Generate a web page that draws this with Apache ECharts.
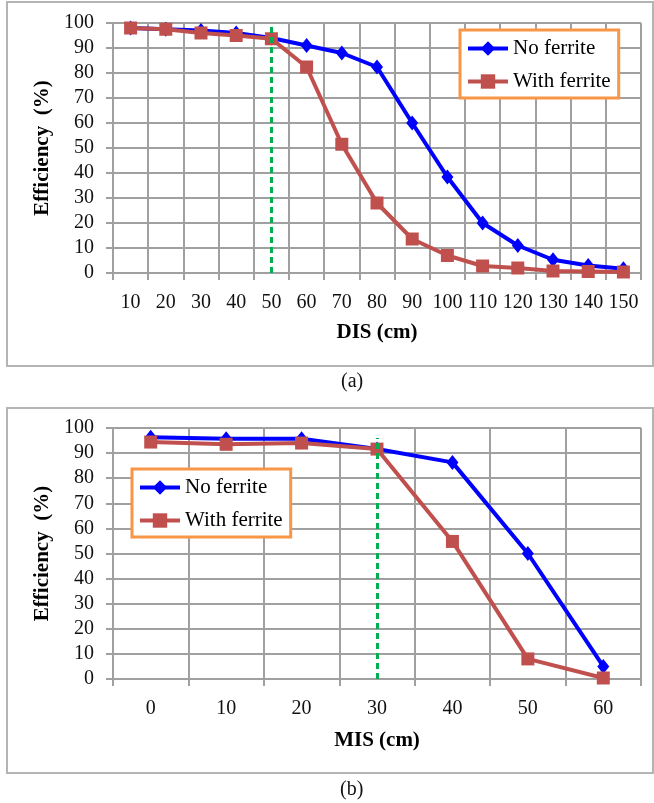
<!DOCTYPE html>
<html>
<head>
<meta charset="utf-8">
<script src="https://cdn.jsdelivr.net/npm/echarts@6/dist/echarts.min.js"></script>
<style>
  html, body { margin: 0; padding: 0; background: #fff; }
  #chart { width: 654px; height: 803px; }
</style>
</head>
<body>
<div id="chart"></div>
<script>
// (a) efficiency vs distance
const disCats = ['10', '20', '30', '40', '50', '60', '70', '80', '90', '100', '110', '120', '130', '140', '150'];
const disNoFerrite = [98, 97.5, 97, 96, 94, 91, 88, 82.4, 60, 38.4, 20, 11, 5.3, 3, 1.7];
const disWithFerrite = [98, 97.5, 96, 95, 93.7, 82.4, 51.5, 28, 13.6, 7, 2.8, 2, 0.8, 0.6, 0.4];
const disMarkAt = '50';

// (b) efficiency vs misalignment
const misCats = ['0', '10', '20', '30', '40', '50', '60'];
const misNoFerrite = [96.3, 95.7, 95.7, 91.6, 86.3, 50, 5];
const misWithFerrite = [94.4, 93.5, 94, 91.6, 54.8, 8, 0.4];
const misMarkAt = '30';
const misMarkTop = 96;

const seriesNames = ['No ferrite', 'With ferrite'];

const FONT = 'Liberation Serif';
const GRID_GRAY = '#a0a0a0';
const BLUE = '#0000ff';
const RED = '#c0504d';
const GREEN = '#00b050';
const ORANGE = '#f79646';

const chart = echarts.init(document.getElementById('chart'));

function xAxisFor(gridIndex, cats, name, nameGap) {
  return {
    type: 'category',
    gridIndex: gridIndex,
    data: cats,
    name: name,
    nameLocation: 'middle',
    nameGap: nameGap,
    nameTextStyle: { fontFamily: FONT, fontSize: 21, fontWeight: 'bold', color: '#000' },
    axisLine: { lineStyle: { color: GRID_GRAY, width: 2 } },
    axisTick: { show: true, length: 7, interval: 0, lineStyle: { color: GRID_GRAY, width: 2 } },
    axisLabel: { interval: 0, margin: 20, fontFamily: FONT, fontSize: 20, color: '#111' },
    splitLine: { show: true, interval: 0, lineStyle: { color: GRID_GRAY, width: 2 } }
  };
}

function yAxisFor(gridIndex) {
  return {
    type: 'value',
    gridIndex: gridIndex,
    min: 0,
    max: 100,
    interval: 10,
    name: 'Efficiency  (%)',
    nameLocation: 'middle',
    nameGap: 52,
    nameTextStyle: { fontFamily: FONT, fontSize: 21, fontWeight: 'bold', color: '#000' },
    axisLine: { show: true, lineStyle: { color: GRID_GRAY, width: 2 } },
    axisTick: { show: true, length: 7, lineStyle: { color: GRID_GRAY, width: 2 } },
    axisLabel: { margin: 19, fontFamily: FONT, fontSize: 20, color: '#111' },
    splitLine: { show: true, lineStyle: { color: GRID_GRAY, width: 2 } }
  };
}

function legendFor(left, top, padding) {
  return {
    orient: 'vertical',
    left: left,
    top: top,
    data: seriesNames,
    padding: padding,
    itemGap: 12,
    itemWidth: 40,
    itemHeight: 18,
    backgroundColor: '#fff',
    borderColor: ORANGE,
    borderWidth: 3,
    borderRadius: 0,
    selectedMode: false,
    lineStyle: { width: 4 },
    textStyle: { fontFamily: FONT, fontSize: 21, lineHeight: 20, color: '#000' }
  };
}

function greenLine(data) {
  return {
    silent: true,
    symbol: 'none',
    label: { show: false },
    lineStyle: { color: GREEN, width: 3, type: [6, 4] },
    data: data
  };
}

function blueSeries(i, values, markLine) {
  return {
    name: seriesNames[0],
    type: 'line',
    xAxisIndex: i,
    yAxisIndex: i,
    data: values,
    symbol: 'diamond',
    symbolSize: [12, 15],
    lineStyle: { color: BLUE, width: 4 },
    itemStyle: { color: BLUE },
    markLine: markLine,
    z: 3
  };
}

function redSeries(i, values) {
  return {
    name: seriesNames[1],
    type: 'line',
    xAxisIndex: i,
    yAxisIndex: i,
    data: values,
    symbol: 'rect',
    symbolSize: 13,
    lineStyle: { color: RED, width: 4 },
    itemStyle: { color: RED },
    z: 4
  };
}

const option = {
  animation: false,
  backgroundColor: '#fff',
  grid: [
    { left: 113, top: 23, width: 528, height: 250 },
    { left: 113, top: 428, width: 528, height: 251 }
  ],
  xAxis: [
    xAxisFor(0, disCats, 'DIS (cm)', 49),
    xAxisFor(1, misCats, 'MIS (cm)', 51)
  ],
  yAxis: [yAxisFor(0), yAxisFor(1)],
  legend: [
    legendFor(460, 30, [8, 8, 6, 6]),
    legendFor(132, 469, [8, 8, 6, 6])
  ],
  series: [
    blueSeries(0, disNoFerrite, greenLine([{ xAxis: disMarkAt }])),
    redSeries(0, disWithFerrite),
    blueSeries(1, misNoFerrite, greenLine([[
      { coord: [misMarkAt, 0] },
      { coord: [misMarkAt, misMarkTop] }
    ]])),
    redSeries(1, misWithFerrite)
  ],
  graphic: [
    // outer frames round each panel
    { type: 'rect', shape: { x: 7, y: 2, width: 646, height: 364 }, style: { fill: null, stroke: '#b4b4b4', lineWidth: 2 }, silent: true },
    { type: 'rect', shape: { x: 7, y: 408, width: 646, height: 365 }, style: { fill: null, stroke: '#b4b4b4', lineWidth: 2 }, silent: true },
    { type: 'text', left: 341, top: 372, style: { text: '(a)', font: '20px "Liberation Serif"', fill: '#111' } },
    { type: 'text', left: 340, top: 780, style: { text: '(b)', font: '20px "Liberation Serif"', fill: '#111' } }
  ]
};

chart.setOption(option);
</script>
</body>
</html>
